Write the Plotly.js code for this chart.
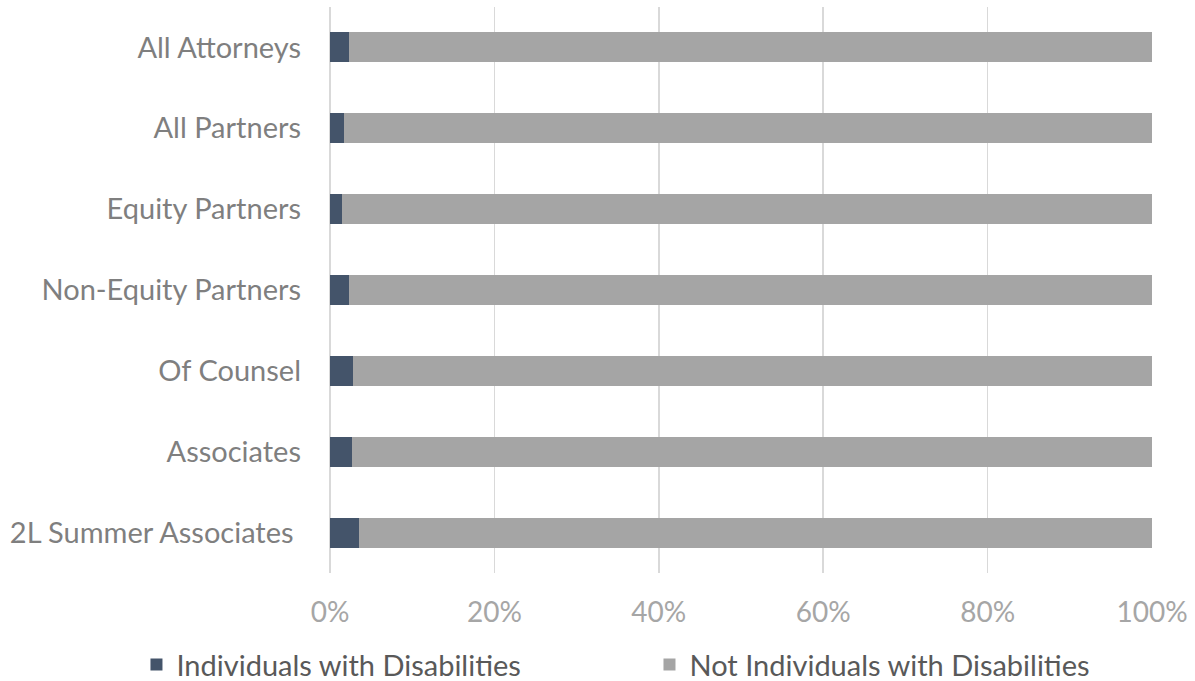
<!DOCTYPE html>
<html>
<head>
<meta charset="utf-8">
<script src="https://cdn.plot.ly/plotly-3.0.1.min.js"></script>
<style>html,body{margin:0;padding:0;background:#fff;}#chart{width:1195px;height:681px;}</style>
</head>
<body>
<div id="chart"></div>
<script>
const categories = ["All Attorneys", "All Partners", "Equity Partners", "Non-Equity Partners", "Of Counsel", "Associates", "2L Summer Associates\u00a0"];
const withDisabilities = [2.35, 1.75, 1.45, 2.25, 2.85, 2.7, 3.55];
const withoutDisabilities = withDisabilities.map(v => 100 - v);
const tickVals = [0, 20, 40, 60, 80, 100];
const tickText = ["0%", "20%", "40%", "60%", "80%", "100%"];

const traces = [
  {type: "bar", orientation: "h", name: "Individuals with Disabilities", y: categories, x: withDisabilities,
   marker: {color: "#44546a"}, hoverinfo: "none", legend: "legend"},
  {type: "bar", orientation: "h", name: "Not Individuals with Disabilities", y: categories, x: withoutDisabilities,
   marker: {color: "#a5a5a5"}, hoverinfo: "none", legend: "legend2"}
];
const legendFont = {family: "Lato, sans-serif", size: 29, color: "#595959"};
const layout = {
  width: 1195, height: 681,
  margin: {l: 330, r: 43, t: 6.5, b: 107.5, pad: 0, autoexpand: false},
  barmode: "stack", bargap: 0.63,
  paper_bgcolor: "#ffffff", plot_bgcolor: "#ffffff",
  font: {family: "Lato, sans-serif", size: 29, color: "#7f7f7f"},
  xaxis: {range: [0, 100], tickvals: tickVals, ticktext: tickText, showgrid: true, gridcolor: "#d9d9d9", gridwidth: 1.5,
          zeroline: true, zerolinecolor: "#d9d9d9", zerolinewidth: 1.5, showline: false, ticks: "", ticklabelstandoff: 20, automargin: false,
          tickfont: {family: "Lato, sans-serif", size: 28, color: "#a6a6a6"}},
  yaxis: {autorange: "reversed", showgrid: false, zeroline: false, showline: false, ticks: "", ticklabelstandoff: 28, automargin: false,
          tickfont: {family: "Lato, sans-serif", size: 29, color: "#7f7f7f"}},
  showlegend: true,
  legend: {orientation: "h", xref: "container", yref: "container", x: 0.1142, xanchor: "left", y: 0.024, yanchor: "middle",
           bgcolor: "rgba(0,0,0,0)", font: legendFont, itemwidth: 30},
  legend2: {orientation: "h", xref: "container", yref: "container", x: 0.5435, xanchor: "left", y: 0.024, yanchor: "middle",
           bgcolor: "rgba(0,0,0,0)", font: legendFont, itemwidth: 30}
};
Plotly.newPlot("chart", traces, layout, {staticPlot: true});
</script>
</body>
</html>
